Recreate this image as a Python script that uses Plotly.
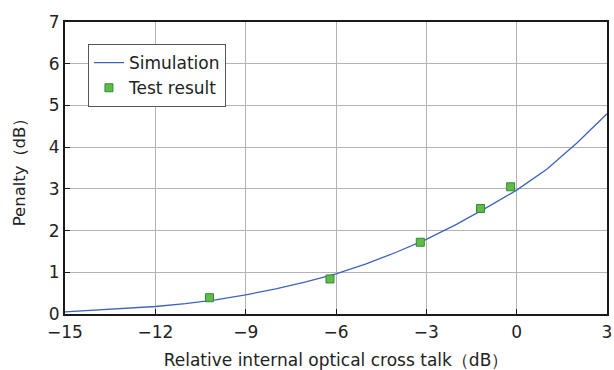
import plotly.graph_objects as go

# Simulated penalty curve vs. relative internal optical cross talk
sim_x = [-15, -14, -13, -12, -11, -10, -9, -8, -7, -6, -5, -4, -3, -2, -1, 0, 1, 2, 3]
sim_y = [0.05, 0.09, 0.13, 0.18, 0.25, 0.34, 0.46, 0.60, 0.77, 0.96, 1.20, 1.48,
         1.79, 2.15, 2.55, 2.97, 3.47, 4.10, 4.80]

# Measured points
test_x = [-10.2, -6.2, -3.2, -1.2, -0.2]
test_y = [0.39, 0.84, 1.72, 2.53, 3.05]

x_ticks = [-15, -12, -9, -6, -3, 0, 3]
y_ticks = [0, 1, 2, 3, 4, 5, 6, 7]

font_family = "DejaVu Sans, Liberation Sans, sans-serif"
text_color = "#222222"

fig = go.Figure()
fig.add_trace(go.Scatter(
    x=sim_x, y=sim_y, mode="lines", name="Simulation",
    line=dict(color="#3f63bd", width=1.3),
))
fig.add_trace(go.Scatter(
    x=test_x, y=test_y, mode="markers", name="Test result",
    marker=dict(symbol="square", size=8, color="#62bb47",
                line=dict(color="#2f8a3a", width=1)),
))

axis_common = dict(
    showgrid=True, gridcolor="#b3b3b3", gridwidth=1.4,
    showline=True, linecolor="#1a1a1a", linewidth=2, mirror=True,
    ticks="inside", ticklen=5, tickcolor="#1a1a1a", tickwidth=1.4,
    zeroline=False, automargin=False,
    tickfont=dict(size=17, color=text_color, family=font_family),
)

fig.update_layout(
    width=614, height=370,
    margin=dict(l=65, r=7, t=22, b=56),
    paper_bgcolor="white", plot_bgcolor="white",
    font=dict(family=font_family, color=text_color),
    xaxis=dict(range=[-15, 3], tickvals=x_ticks, ticklabelstandoff=2,
               title=dict(text="Relative internal optical cross talk（dB）",
                          font=dict(size=17), standoff=13),
               **axis_common),
    yaxis=dict(range=[0, 7], tickvals=y_ticks,
               title=dict(text="Penalty（dB）", font=dict(size=16.5), standoff=19),
               **axis_common),
    legend=dict(x=0.042, y=0.925, xanchor="left", yanchor="top",
                bgcolor="white", bordercolor="#555555", borderwidth=1.2,
                font=dict(size=17, color=text_color),
                itemwidth=30, tracegroupgap=0),
    showlegend=True,
)

fig.write_html("out.html")
